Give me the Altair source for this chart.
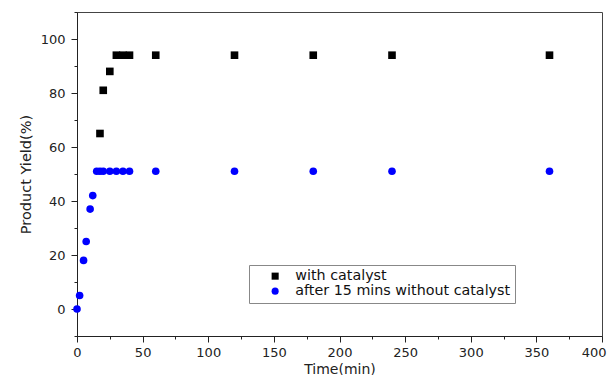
import altair as alt
import pandas as pd

series_names = ["with catalyst", "after 15 mins without catalyst"]

cat_time = [17.5, 20, 25, 30, 35, 40, 60, 120, 180, 240, 360]
cat_yield = [65, 81, 88, 94, 94, 94, 94, 94, 94, 94, 94]

nocat_time = [0, 2, 5, 7, 10, 12, 15, 17.5, 20, 25, 30, 35, 40, 60, 120, 180, 240, 360]
nocat_yield = [0, 5, 18, 25, 37, 42, 51, 51, 51, 51, 51, 51, 51, 51, 51, 51, 51, 51]

x_ticks = list(range(0, 401, 25))
y_ticks = list(range(-10, 111, 10))

df = pd.concat([
    pd.DataFrame({"Time": cat_time, "Yield": cat_yield, "Series": series_names[0]}),
    pd.DataFrame({"Time": nocat_time, "Yield": nocat_yield, "Series": series_names[1]}),
])

FONT = "DejaVu Sans"
AX = "#222222"

x_axis = alt.Axis(
    title="Time(min)", values=x_ticks,
    labelExpr="datum.value % 50 === 0 ? datum.label : ''",
    tickSize={"condition": {"test": "datum.value % 50 !== 0", "value": 3}, "value": 6},
    labelAlign={"condition": {"test": "datum.value === 400", "value": "right"}, "value": "center"},
    labelOffset={"condition": {"test": "datum.value === 400", "value": 4}, "value": 0},
    grid=False, labelFont=FONT, labelFontSize=13, labelColor=AX,
    titleFont=FONT, titleFontSize=14, titleFontWeight="normal", titleColor=AX,
    domainColor=AX, tickColor=AX, labelPadding=4, titlePadding=3,
    labelFlush=False, labelOverlap=False,
)
y_axis = alt.Axis(
    title="Product Yield(%)", values=y_ticks,
    labelExpr="datum.value % 20 === 0 ? datum.label : ''",
    tickSize={"condition": {"test": "datum.value % 20 !== 0", "value": 3}, "value": 6},
    grid=False, labelFont=FONT, labelFontSize=13, labelColor=AX,
    titleFont=FONT, titleFontSize=14.5, titleFontWeight="normal", titleColor=AX,
    domainColor=AX, tickColor=AX, labelPadding=6, titlePadding=7,
    labelFlush=False, labelOverlap=False,
)

chart = alt.Chart(df).mark_point(filled=True, opacity=1, size=58).encode(
    x=alt.X("Time:Q", scale=alt.Scale(domain=[0, 400], nice=False), axis=x_axis),
    y=alt.Y("Yield:Q", scale=alt.Scale(domain=[-10, 110], nice=False), axis=y_axis),
    color=alt.Color("Series:N", scale=alt.Scale(domain=series_names, range=["#000000", "#0000ff"]),
                    legend=alt.Legend(orient="none", legendX=172, legendY=253, title=None,
                                      strokeColor="#888888", padding=4,
                                      labelFont=FONT, labelFontSize=14.3, labelColor="#111111",
                                      symbolSize=50, symbolOffset=15, labelOffset=13,
                                      rowPadding=-1, labelLimit=400)),
    shape=alt.Shape("Series:N", scale=alt.Scale(domain=series_names, range=["square", "circle"])),
).properties(
    width=525, height=324,
    autosize=alt.AutoSizeParams(type="none"),
    padding={"left": 69, "top": 4, "right": 5, "bottom": 39},
).configure_view(stroke="#444444", strokeWidth=1)

chart.save("out.html", embed_options={"renderer": "svg", "actions": False})
